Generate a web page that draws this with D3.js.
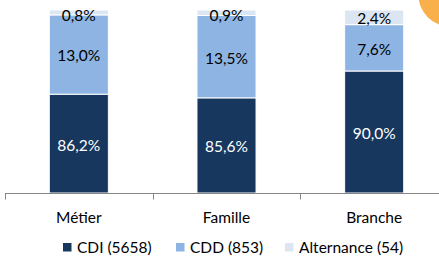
<!DOCTYPE html>
<html><head><meta charset="utf-8">
<script src="https://cdn.jsdelivr.net/npm/d3@7"></script>
<style>html,body{margin:0;padding:0;background:#fff;}svg{display:block;font-family:Lato,"Open Sans",sans-serif;}</style>
</head><body>
<svg id="c" width="439" height="256"></svg>
<script>
const categories = ["Métier", "Famille", "Branche"];
const cdi = [86.2, 85.6, 90.0];
const cdd = [13.0, 13.5, 7.6];
const alternance = [0.8, 0.9, 2.4];
const seriesNames = ["CDI (5658)", "CDD (853)", "Alternance (54)"];
const seriesColors = ["#17375E", "#8DB4E2", "#DCE6F2"];
const labelColors = ["#ffffff", "#000000", "#000000"];
const yDomain = [70, 100];

const svg = d3.select("#c");
const x = d3.scaleBand().domain(categories).range([5, 448]).paddingInner(0.6).paddingOuter(0.3);
const xb = d3.scaleBand().domain(categories).range([5, 448]);
const y = d3.scaleLinear().domain(yDomain).range([193, 10]);

// orange decoration
svg.append("circle").attr("cx", 450).attr("cy", -5).attr("r", 31.5).attr("fill", "#F9B04A");

const rows = categories.map((c, i) => ({cat: c, CDI: cdi[i], CDD: cdd[i], ALT: alternance[i]}));
const stack = d3.stack().keys(["CDI", "CDD", "ALT"])(rows);

const g = svg.append("g");
stack.forEach((layer, li) => {
  g.selectAll(null).data(layer).enter().append("rect")
    .attr("x", d => x(d.data.cat))
    .attr("width", x.bandwidth())
    .attr("y", d => y(d[1]))
    .attr("height", d => y(Math.max(d[0], yDomain[0])) - y(d[1]))
    .attr("fill", seriesColors[li])
    .attr("stroke", "#fff").attr("stroke-width", 1);
});
stack.forEach((layer, li) => {
  g.selectAll(null).data(layer).enter().append("text")
    .attr("x", d => x(d.data.cat) + x.bandwidth() / 2)
    .attr("y", d => {
      const mid = (y(Math.max(d[0], yDomain[0])) + y(d[1])) / 2 + 1.5;
      return Math.max(mid, 16);
    })
    .attr("dy", "0.35em")
    .attr("text-anchor", "middle")
    .attr("font-size", "15.5px")
    .attr("fill", labelColors[li])
    .text(d => (d[1] - d[0]).toFixed(1).replace(".", ",") + "%");
});

// x axis
const axisG = svg.append("g").attr("transform", "translate(0,193.5)");
axisG.append("line").attr("x1", 5).attr("x2", 448).attr("stroke", "#868686");
const tickPos = categories.map(c => xb(c)).concat([xb(categories[categories.length - 1]) + xb.bandwidth()]);
axisG.selectAll(null).data(tickPos).enter().append("line")
  .attr("x1", d => Math.round(d) + 0.5).attr("x2", d => Math.round(d) + 0.5)
  .attr("y1", 0).attr("y2", 6).attr("stroke", "#868686");
axisG.selectAll(null).data(categories).enter().append("text")
  .attr("x", d => xb(d) + xb.bandwidth() / 2)
  .attr("y", 29)
  .attr("text-anchor", "middle")
  .attr("font-size", "15.5px")
  .attr("fill", "#000")
  .text(d => d);

// legend
const legX = [63, 176, 285];
const leg = svg.append("g");
seriesNames.forEach((n, i) => {
  leg.append("rect").attr("x", legX[i]).attr("y", 243).attr("width", 8.5).attr("height", 8.5).attr("fill", seriesColors[i]);
  leg.append("text").attr("x", legX[i] + 14).attr("y", 252.5).attr("font-size", "15.5px").attr("fill", "#000").text(n);
});
</script>
</body></html>
